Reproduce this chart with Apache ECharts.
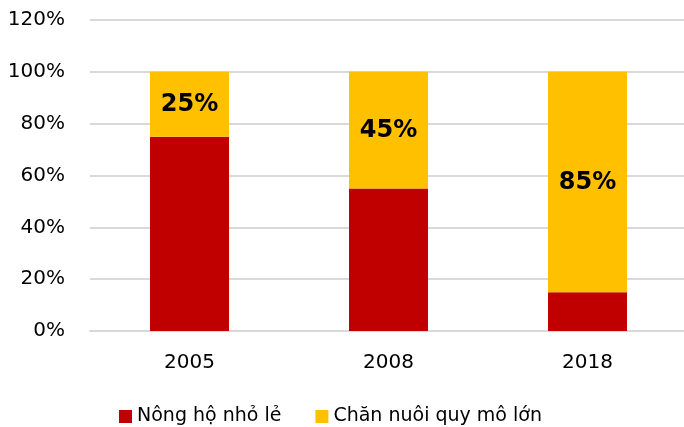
<!DOCTYPE html>
<html>
<head>
<meta charset="utf-8">
<script src="https://cdn.jsdelivr.net/npm/echarts@6/dist/echarts.min.js"></script>
<style>
  html, body { margin: 0; padding: 0; background: #fff; }
  #chart { width: 684px; height: 427px; }
</style>
</head>
<body>
<div id="chart"></div>
<script>
const years = ['2005', '2008', '2018']
const smallHolders = [75, 55, 15]
const largeFarms = [25, 45, 85]
const seriesNames = ['Nông hộ nhỏ lẻ', 'Chăn nuôi quy mô lớn']
const Colors = ['#C00000', '#FFC000']

const fontFamily = 'DejaVu Sans, sans-serif'

const chart = echarts.init(document.getElementById('chart'))

chart.setOption({
  animation: false,
  legend: {
    data: seriesNames,
    left: 114,
    top: 402,
    icon: 'rect',
    itemWidth: 13,
    itemHeight: 13,
    itemGap: 34,
    textStyle: {
      color: '#000',
      fontSize: 19,
      fontFamily: fontFamily
    }
  },
  grid: {
    top: 20,
    left: 90,
    width: 597,
    bottom: 96,
    outerBoundsMode: 'none',
    containLabel: false
  },
  xAxis: {
    type: 'category',
    data: years,
    axisTick: { show: false },
    axisLine: {
      lineStyle: { color: '#d9d9d9', width: 2 }
    },
    axisLabel: {
      color: '#000',
      fontSize: 20,
      fontFamily: fontFamily,
      margin: 22
    }
  },
  yAxis: {
    type: 'value',
    min: 0,
    max: 120,
    interval: 20,
    axisLine: { show: false },
    axisTick: { show: false },
    axisLabel: {
      color: '#000',
      fontSize: 20,
      fontFamily: fontFamily,
      margin: 25,
      formatter: '{value}%'
    },
    splitLine: {
      lineStyle: { color: '#d9d9d9', width: 2 }
    }
  },
  series: [
    {
      name: seriesNames[0],
      type: 'bar',
      stack: 'total',
      barWidth: 79,
      itemStyle: { color: Colors[0] },
      data: smallHolders
    },
    {
      name: seriesNames[1],
      type: 'bar',
      stack: 'total',
      barWidth: 79,
      itemStyle: { color: Colors[1] },
      label: {
        show: true,
        position: 'inside',
        offset: [0, 1],
        formatter: '{c}%',
        color: '#000',
        fontWeight: 'bold',
        fontSize: 24,
        fontFamily: fontFamily
      },
      data: largeFarms
    }
  ]
})
</script>
</body>
</html>
